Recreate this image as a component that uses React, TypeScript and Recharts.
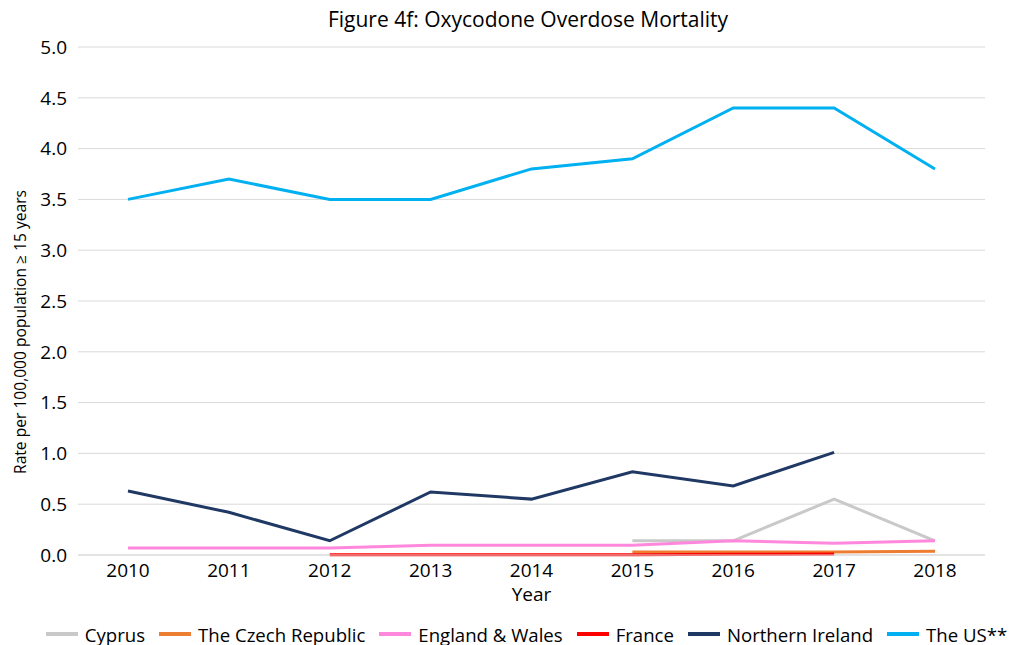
import React from "react";
import { LineChart, Line, XAxis, YAxis, CartesianGrid, Legend } from "recharts";

const years = ["2010", "2011", "2012", "2013", "2014", "2015", "2016", "2017", "2018"];
const cyprus = [null, null, null, null, null, 0.14, 0.14, 0.55, 0.14];
const czech = [null, null, null, null, null, 0.03, 0.03, 0.03, 0.036];
const englandWales = [0.07, 0.07, 0.07, 0.095, 0.095, 0.095, 0.14, 0.115, 0.14];
const france = [null, null, 0.002, 0.002, 0.002, 0.002, 0.008, 0.01, null];
const northernIreland = [0.63, 0.42, 0.14, 0.62, 0.55, 0.82, 0.68, 1.01, null];
const theUS = [3.5, 3.7, 3.5, 3.5, 3.8, 3.9, 4.4, 4.4, 3.8];
const yTicks = [0, 0.5, 1, 1.5, 2, 2.5, 3, 3.5, 4, 4.5, 5];

const data = years.map((y, i) => ({
  year: y,
  cyprus: cyprus[i],
  czech: czech[i],
  england: englandWales[i],
  france: france[i],
  ni: northernIreland[i],
  us: theUS[i],
}));

const series = [
  { key: "cyprus", name: "Cyprus", color: "#C9C9C9" },
  { key: "czech", name: "The Czech Republic", color: "#ED7D31" },
  { key: "england", name: "England & Wales", color: "#FF88DC" },
  { key: "france", name: "France", color: "#FF0000" },
  { key: "ni", name: "Northern Ireland", color: "#203864" },
  { key: "us", name: "The US**", color: "#00B0F0" },
];

const FONT = "'Open Sans', sans-serif";

const renderLegend = (props: any) => {
  const payload = (props.payload || []).slice();
  const order = series.map((s) => s.name);
  payload.sort((a: any, b: any) => order.indexOf(a.value) - order.indexOf(b.value));
  return (
    <div
      style={{
        display: "flex",
        justifyContent: "center",
        alignItems: "center",
        height: 38,
        width: 1011,
        fontFamily: FONT,
        fontSize: 18.6,
        color: "#000",
        whiteSpace: "nowrap",
        paddingLeft: 56,
        boxSizing: "border-box",
      }}
    >
      {payload.map((p: any) => (
        <div key={p.value} style={{ display: "flex", alignItems: "center", marginRight: 14, flexShrink: 0 }}>
          <svg width={32} height={6} style={{ marginRight: 7 }}>
            <line x1={0} y1={3} x2={32} y2={3} stroke={p.color} strokeWidth={4} />
          </svg>
          <span>{p.value}</span>
        </div>
      ))}
    </div>
  );
};

export default function App() {
  return (
    <div style={{ position: "absolute", left: 0, top: 0, width: 1011, height: 645, background: "#fff", fontFamily: FONT }}>
      <div
        style={{
          position: "absolute",
          top: 5,
          left: 0,
          width: 1056,
          textAlign: "center",
          fontSize: 21,
          color: "#000",
        }}
      >
        Figure 4f: Oxycodone Overdose Mortality
      </div>
      <LineChart
        width={1011}
        height={645}
        data={data}
        margin={{ top: 47, right: 26, left: 10, bottom: 0 }}
      >
        <CartesianGrid vertical={false} stroke="#D9D9D9" strokeWidth={1} />
        <XAxis
          dataKey="year"
          tickLine={false}
          axisLine={{ stroke: "#D9D9D9" }}
          tick={{ fontSize: 19, fill: "#000", fontFamily: FONT }}
          height={60}
          tickMargin={3}
          padding={{ left: 50, right: 50 }}
          label={{ value: "Year", position: "insideBottom", offset: 14, fontSize: 19, fill: "#000", fontFamily: FONT }}
        />
        <YAxis
          domain={[0, 5]}
          ticks={yTicks}
          tickFormatter={(v: number) => v.toFixed(1)}
          tickLine={false}
          axisLine={false}
          width={68}
          tickMargin={5}
          tick={{ fontSize: 19, fill: "#000", fontFamily: FONT }}
        />
        <Legend verticalAlign="bottom" height={30} wrapperStyle={{ left: 0, width: 1011 }} content={renderLegend} />
        {series.map((s) => (
          <Line
            key={s.key}
            type="linear"
            dataKey={s.key}
            name={s.name}
            stroke={s.color}
            strokeWidth={3}
            dot={false}
            activeDot={false}
            connectNulls={false}
            isAnimationActive={false}
          />
        ))}
      </LineChart>
      <div
        style={{
          position: "absolute",
          left: 20,
          top: 332,
          transform: "translate(-50%, -50%) rotate(-90deg)",
          whiteSpace: "nowrap",
          fontSize: 15.6,
          color: "#000",
          fontFamily: FONT,
        }}
      >
        Rate per 100,000 population ≥ 15 years
      </div>
    </div>
  );
}
